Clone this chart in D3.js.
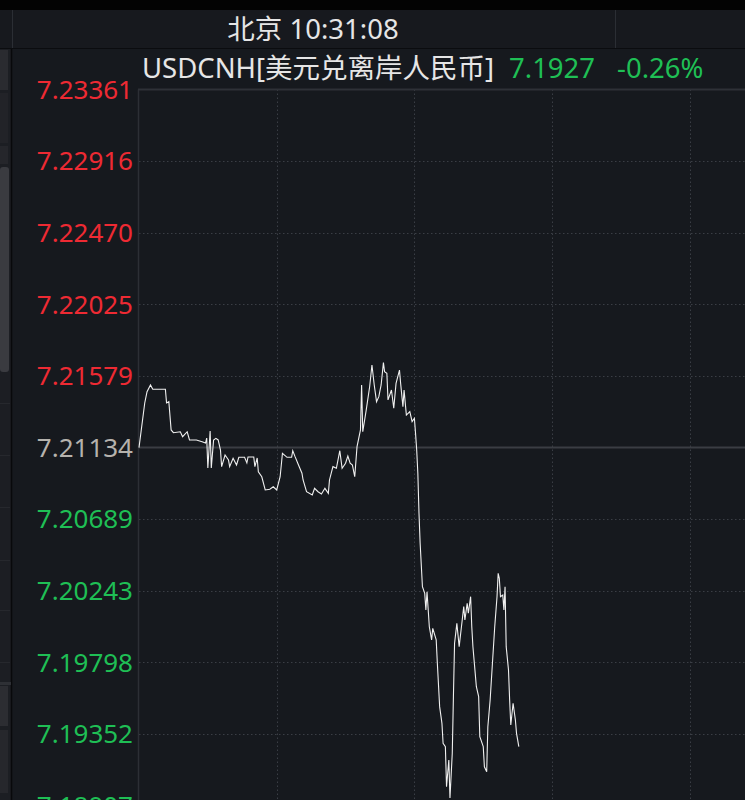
<!DOCTYPE html>
<html><head><meta charset="utf-8">
<script src="https://cdn.jsdelivr.net/npm/d3@7/dist/d3.min.js"></script>
<style>
html,body{margin:0;padding:0;background:#16191e;overflow:hidden;}
svg{display:block;}
</style></head>
<body>
<svg id="c" width="745" height="800"></svg>
<script>
// ---- data ----
const headerTime = "北京 10:31:08";
const symbolName = "USDCNH[美元兑离岸人民币]";
const lastPrice = "7.1927";
const changePct = "-0.26%";
const prevClose = 7.21134;
const tickLabels = ["7.23361","7.22916","7.22470","7.22025","7.21579","7.21134","7.20689","7.20243","7.19798","7.19352","7.18907"];
const gridTimes = [0, 120, 240, 360, 480];
const times = [0,5,7,10,12,23,24,26,28,30,36,38,42,44,50,55,58,59,60,62,63,65,67,69,71,72,75,78,79,82,85,87,92,94,95,100,101,103,104,107,110,114,117,120,123,125,129,133,134,136,139,142,143,146,151,153,156,159,162,165,166,169,172,175,177,180,182,184,186,188,190,193,194,195,198,201,203,205,207,209,211,213,214,216,217,220,222,224,227,228,230,231,233,236,238,240,241,242,243,244,245,247,249,250,251,253,255,256,259,260,262,264,265,267,268,270,271,273,274,275,277,279,281,283,284,286,287,289,290,291,293,294,296,297,300,301,303,304,306,308,310,312,313,314,315,317,318,319,320,322,323,324,326,328,329,331];
const prices = [7.21133,7.21411,7.21481,7.21523,7.21496,7.21496,7.21411,7.21419,7.21243,7.21226,7.21232,7.21201,7.21232,7.21181,7.21181,7.21170,7.21162,7.21193,7.21006,7.21237,7.21006,7.21181,7.21191,7.21181,7.21118,7.21015,7.21087,7.21056,7.21015,7.21067,7.21025,7.21073,7.21073,7.21038,7.21075,7.21075,7.21015,7.21069,7.20983,7.20952,7.20870,7.20874,7.20890,7.20870,7.20952,7.21098,7.21073,7.21073,7.21114,7.21077,7.21025,7.20974,7.20932,7.20859,7.20839,7.20880,7.20859,7.20845,7.20880,7.20849,7.20932,7.21015,7.21005,7.21114,7.21005,7.21036,7.21081,7.21036,7.21025,7.20952,7.21139,7.21243,7.21523,7.21232,7.21367,7.21512,7.21647,7.21523,7.21419,7.21450,7.21523,7.21662,7.21606,7.21596,7.21430,7.21492,7.21378,7.21533,7.21616,7.21533,7.21388,7.21492,7.21336,7.21357,7.21295,7.21316,7.21222,7.21118,7.20974,7.20725,7.20538,7.20268,7.20227,7.20123,7.20237,7.20019,7.19937,7.20009,7.19937,7.19792,7.19522,7.19418,7.19294,7.19273,7.19024,7.19190,7.18954,7.19232,7.19584,7.19916,7.20040,7.19895,7.20019,7.20144,7.20061,7.20165,7.20103,7.20206,7.20019,7.19895,7.19729,7.19646,7.19584,7.19335,7.19273,7.19148,7.19117,7.19397,7.19563,7.19792,7.20019,7.20206,7.20351,7.20320,7.20206,7.20216,7.20123,7.20268,7.19895,7.19750,7.19563,7.19408,7.19543,7.19439,7.19356,7.19273];

// ---- layout ----
const svg = d3.select("#c");
const W = 745, H = 800;
const plotL = 139, plotT = 89.5;
const font = "'Noto Sans','Noto Sans CJK SC',sans-serif";
const red = "#ee2a33", green = "#1fbf55", gray = "#b5b2ad", lineGrid = "#3a3e45";

const x = d3.scaleLinear().domain([0, 600]).range([plotL, plotL + 600 * 1.1475]);
const tickVals = tickLabels.map(Number);
const y = d3.scaleLinear().domain([tickVals[0], tickVals[tickVals.length - 1]]).range([plotT, plotT + 716]);

// top black strip + header
svg.append("rect").attr("x",0).attr("y",0).attr("width",W).attr("height",10).attr("fill","#030303");
svg.append("rect").attr("x",0).attr("y",10).attr("width",W).attr("height",38).attr("fill","#17191e");
svg.append("line").attr("x1",12.5).attr("x2",12.5).attr("y1",10).attr("y2",48).attr("stroke","#2b2e34");
svg.append("line").attr("x1",615.5).attr("x2",615.5).attr("y1",10).attr("y2",48).attr("stroke","#2b2e34");
svg.append("line").attr("x1",0).attr("x2",W).attr("y1",48.5).attr("y2",48.5).attr("stroke","#0b0c0f");

// left sidebar
svg.append("rect").attr("x",0).attr("y",49).attr("width",11).attr("height",H-49).attr("fill","#1c1e23");
svg.append("line").attr("x1",11.5).attr("x2",11.5).attr("y1",49).attr("y2",H).attr("stroke","#08090b").attr("stroke-width",1.5);
const side = [[50,40,"#2a2b30"],[93,50,"#222328"],[146,18,"#25262b"],[167,205,"#3a3b40"],[686,40,"#2c2d32"],[730,63,"#26272c"]];
svg.append("g").selectAll("rect").data(side).join("rect")
  .attr("x",0).attr("y",d=>d[0]).attr("width",d=>d[0]===167?9:8).attr("height",d=>d[1]).attr("rx",d=>d[0]===167?3:0).attr("fill",d=>d[2]);
svg.append("g").selectAll("line").data([403,455,507,560,610,662]).join("line")
  .attr("x1",0).attr("x2",10).attr("y1",d=>d+0.5).attr("y2",d=>d+0.5).attr("stroke","#26282d");
svg.append("rect").attr("x",0).attr("y",682).attr("width",11).attr("height",3).attr("fill","#2e3035");

// header texts
svg.append("text").attr("x",313).attr("y",39).attr("text-anchor","middle")
  .attr("font-family",font).attr("font-size",27.5).attr("fill","#e6e6e6").text(headerTime);
const t = svg.append("text").attr("x",142).attr("y",78).attr("font-family",font).attr("font-size",27.5);
t.append("tspan").attr("fill","#e6e6e6").text(symbolName);
t.append("tspan").attr("fill",green).attr("dx",15).text(lastPrice);
t.append("tspan").attr("fill",green).attr("dx",22).text(changePct);

// grid
const g = svg.append("g");
g.selectAll("line.h").data(tickVals.filter((v,i)=>i>0 && i!==5)).join("line").attr("class","h")
  .attr("x1",plotL).attr("x2",W).attr("y1",d=>Math.round(y(d))+0.5).attr("y2",d=>Math.round(y(d))+0.5)
  .attr("stroke",lineGrid).attr("stroke-dasharray","1.5,2.5");
g.selectAll("line.v").data(gridTimes.slice(1)).join("line").attr("class","v")
  .attr("x1",d=>Math.round(x(d))+0.5).attr("x2",d=>Math.round(x(d))+0.5).attr("y1",plotT).attr("y2",H)
  .attr("stroke",lineGrid).attr("stroke-dasharray","1.5,2.5");
// frame
svg.append("line").attr("x1",plotL-0.5).attr("x2",plotL-0.5).attr("y1",plotT).attr("y2",H).attr("stroke","#2c2f35").attr("stroke-width",1.5);
svg.append("line").attr("x1",plotL-1).attr("x2",W).attr("y1",plotT).attr("y2",plotT).attr("stroke","#2e3137").attr("stroke-width",2);
// prev close baseline
svg.append("line").attr("x1",plotL).attr("x2",W).attr("y1",y(prevClose)).attr("y2",y(prevClose)).attr("stroke","#3a3d43").attr("stroke-width",2);

// y labels
svg.append("g").selectAll("text").data(tickLabels).join("text")
  .attr("x",133).attr("y",d=>y(+d)).attr("dy","0.36em").attr("text-anchor","end")
  .attr("font-family",font).attr("font-size",26)
  .attr("fill",d=> +d > prevClose + 1e-6 ? red : (+d < prevClose - 1e-6 ? green : gray))
  .text(d=>d);

// price line
const data = times.map((tm,i)=>({t:tm,p:prices[i]}));
svg.append("path").datum(data)
  .attr("d", d3.line().x(d=>x(d.t)).y(d=>y(d.p)))
  .attr("fill","none").attr("stroke","#f0f0f0").attr("stroke-width",1.1).attr("stroke-linejoin","miter");
</script>
</body></html>
